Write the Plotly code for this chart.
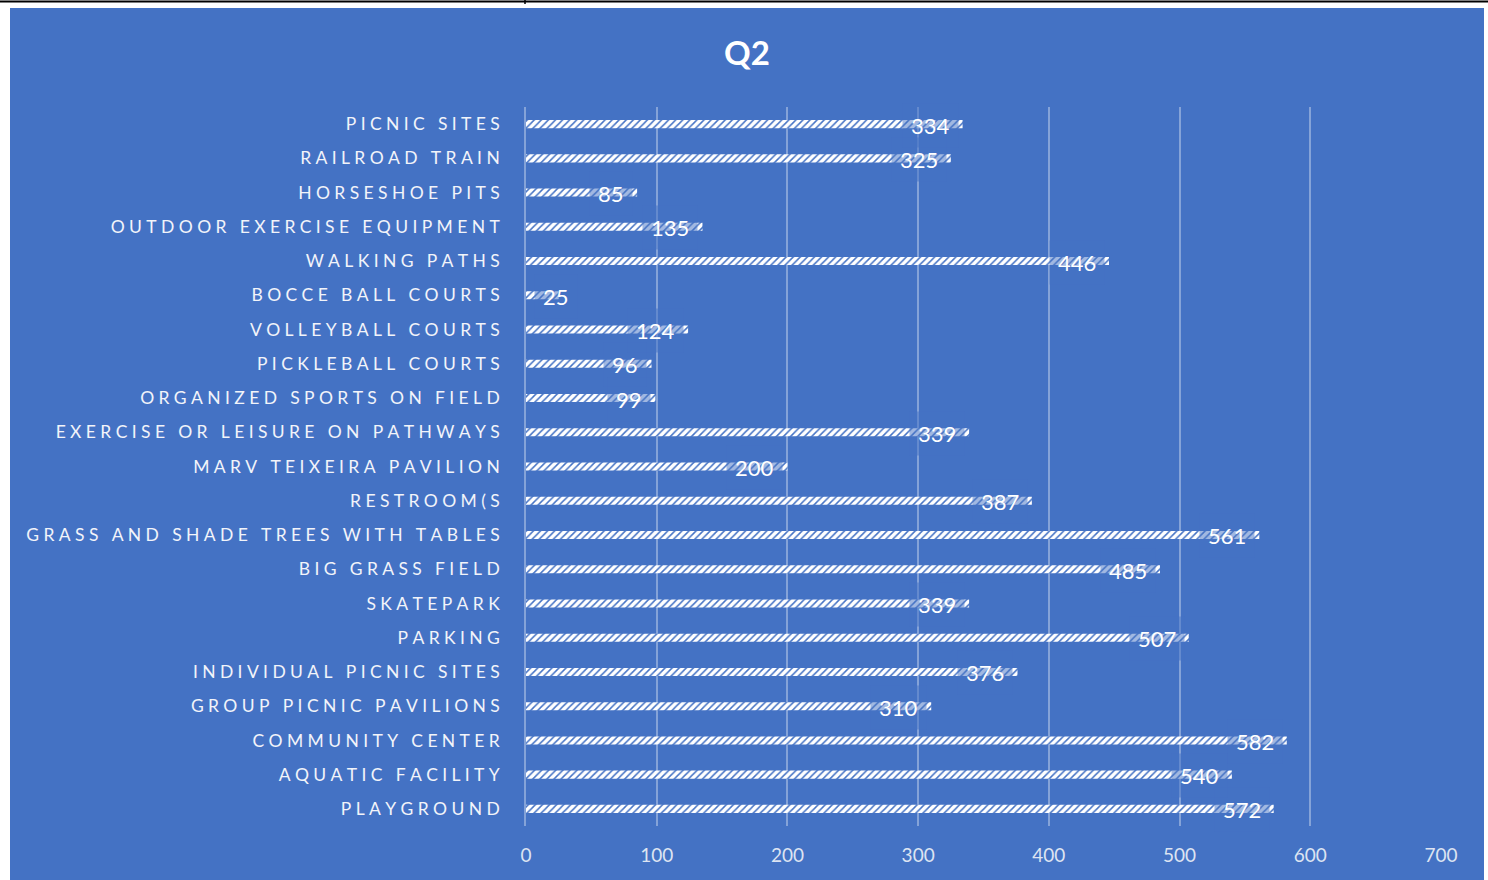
import plotly.graph_objects as go

categories = [
    "PICNIC SITES", "RAILROAD TRAIN", "HORSESHOE PITS", "OUTDOOR EXERCISE EQUIPMENT",
    "WALKING PATHS", "BOCCE BALL COURTS", "VOLLEYBALL COURTS", "PICKLEBALL COURTS",
    "ORGANIZED SPORTS ON FIELD", "EXERCISE OR LEISURE ON PATHWAYS", "MARV TEIXEIRA PAVILION",
    "RESTROOM(S", "GRASS AND SHADE TREES WITH TABLES", "BIG GRASS FIELD", "SKATEPARK",
    "PARKING", "INDIVIDUAL PICNIC SITES", "GROUP PICNIC PAVILIONS", "COMMUNITY CENTER",
    "AQUATIC FACILITY", "PLAYGROUND",
]
values = [334, 325, 85, 135, 446, 25, 124, 96, 99, 339, 200, 387, 561, 485, 339, 507, 376, 310, 582, 540, 572]
x_ticks = [0, 100, 200, 300, 400, 500, 600, 700]
title_text = "Q2"

BLUE = "#4472C4"
W, H = 1488, 880
L, R, T, B = 526, 47, 107, 54
PW, PH = W - L - R, H - T - B
FONT = "Lato, Calibri, sans-serif"
X_MAX = 700


def spaced(s):
    return "\u2005".join(list(s))


def px(xp):
    return (xp - L) / PW


def py(yp):
    return (H - B - yp) / PH


fig = go.Figure()
fig.add_trace(go.Bar(
    x=values, y=categories, orientation="h",
    marker=dict(
        color="white",
        line=dict(width=0),
        pattern=dict(shape="/", fgcolor=BLUE, bgcolor="white", size=5, solidity=0.3, fillmode="replace"),
    ),
    hoverinfo="x+y",
))

for c, v in zip(categories, values):
    fits = v * PW / X_MAX > 60
    fig.add_annotation(
        x=v if fits else 0, y=c, xref="x", yref="y", text=str(v), showarrow=False,
        xanchor="right" if fits else "left", yanchor="middle",
        xshift=-4 if fits else 8, yshift=-1,
        font=dict(family=FONT, size=22, color="white"),
        bgcolor="rgba(68,114,196,0.5)", borderpad=8,
    )

shapes = [
    dict(type="rect", xref="paper", yref="paper", x0=px(0), x1=px(10), y0=py(880), y1=py(0),
         fillcolor="white", line=dict(width=0), layer="above"),
    dict(type="rect", xref="paper", yref="paper", x0=px(0), x1=px(1488), y0=py(8), y1=py(0),
         fillcolor="white", line=dict(width=0), layer="above"),
    dict(type="rect", xref="paper", yref="paper", x0=px(1484), x1=px(1488), y0=py(880), y1=py(0),
         fillcolor="white", line=dict(width=0), layer="above"),
    dict(type="line", xref="paper", yref="paper", x0=px(0), x1=px(1488), y0=py(1.5), y1=py(1.5),
         line=dict(color="black", width=2), layer="above"),
    dict(type="line", xref="paper", yref="paper", x0=px(525), x1=px(525), y0=py(0), y1=py(4),
         line=dict(color="black", width=1.5), layer="above"),
]

fig.update_layout(
    width=W, height=H,
    margin=dict(l=L, r=R, t=T, b=B, pad=0, autoexpand=False),
    paper_bgcolor=BLUE, plot_bgcolor=BLUE,
    showlegend=False,
    bargap=0.765,
    shapes=shapes,
    title=dict(text="<b>" + title_text + "</b>", x=747 / W, xref="container", xanchor="center",
               y=1 - 53 / H, yref="container", yanchor="middle",
               font=dict(family=FONT, size=33, color="white")),
    xaxis=dict(
        range=[0, X_MAX], tickvals=x_ticks, ticktext=[str(t) for t in x_ticks],
        showgrid=True, gridcolor="rgba(255,255,255,0.35)", gridwidth=1.5,
        zeroline=False, showline=False, automargin=False,
        ticks="outside", ticklen=12, tickcolor="rgba(0,0,0,0)",
        tickfont=dict(family=FONT, size=19, color="#dde4f2"),
        fixedrange=True,
    ),
    yaxis=dict(
        categoryorder="array", categoryarray=categories,
        range=[len(categories) - 0.5, -0.5], autorange=False,
        tickvals=categories, ticktext=[spaced(c) for c in categories],
        showgrid=False, zeroline=False, automargin=False,
        showline=True, linecolor="rgba(255,255,255,0.35)", linewidth=1.5,
        ticks="outside", ticklen=21, tickcolor="rgba(0,0,0,0)",
        tickfont=dict(family=FONT, size=17.5, color="#f2f4fa"),
        fixedrange=True,
    ),
)

fig.write_html("out.html", config={"displayModeBar": False},
               post_script="document.body.style.margin='0';")
